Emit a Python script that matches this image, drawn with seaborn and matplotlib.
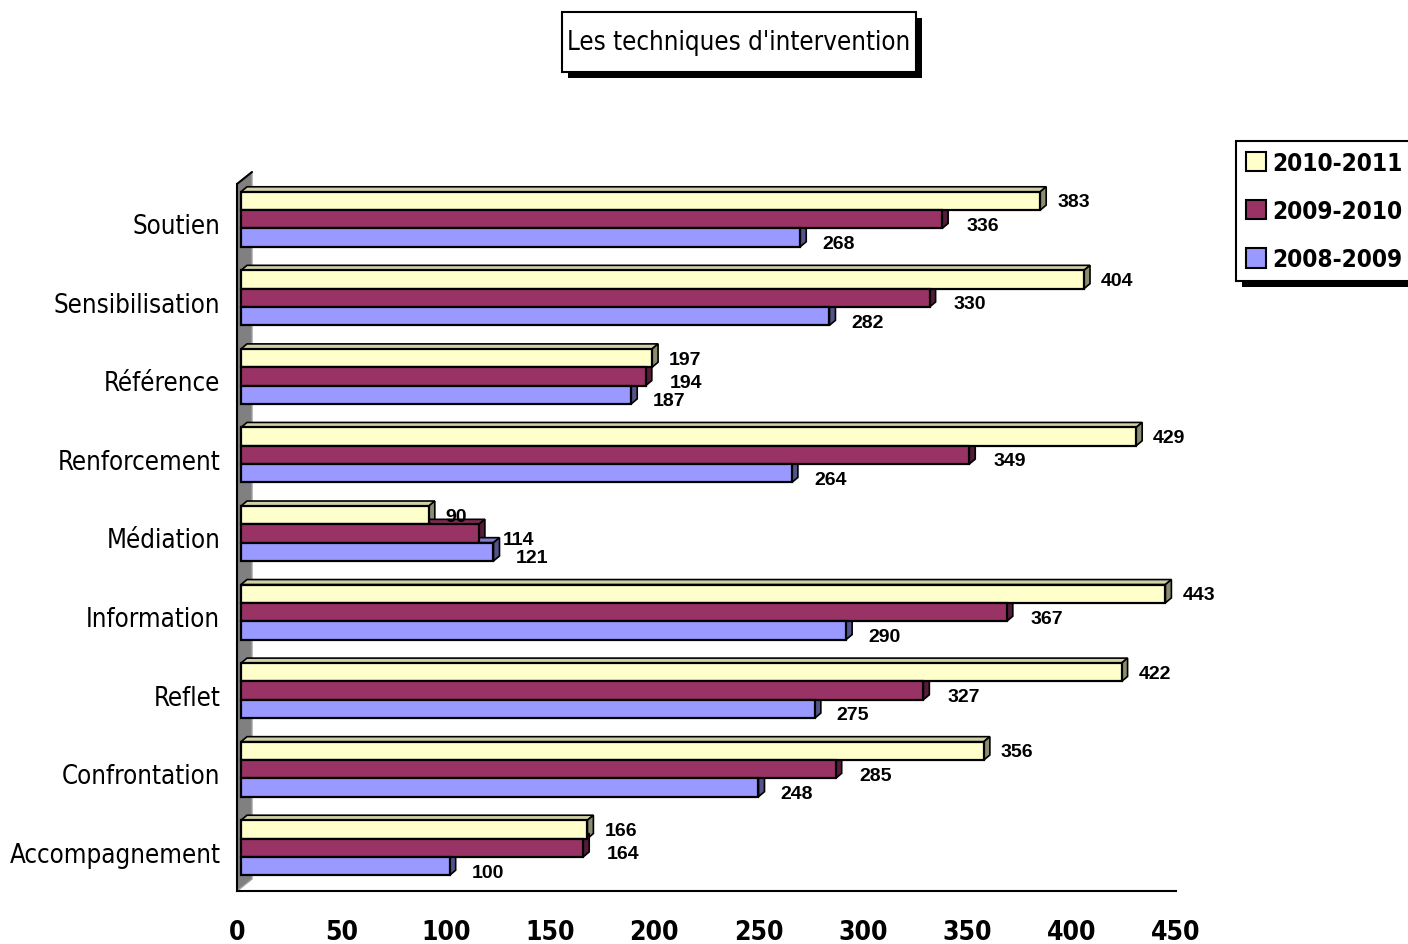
import numpy as np
import pandas as pd
import seaborn as sns
import matplotlib.pyplot as plt
import matplotlib.colors as mcolors
import matplotlib.transforms as mtransforms
import matplotlib.patheffects as pe
from matplotlib import font_manager as fm
from matplotlib.patches import Polygon, Patch, Rectangle

categories = ['Soutien', 'Sensibilisation', 'Référence', 'Renforcement', 'Médiation',
              'Information', 'Reflet', 'Confrontation', 'Accompagnement']
years = ['2010-2011', '2009-2010', '2008-2009']
v_2010_2011 = [383, 404, 197, 429, 90, 443, 422, 356, 166]
v_2009_2010 = [336, 330, 194, 349, 114, 367, 327, 285, 164]
v_2008_2009 = [268, 282, 187, 264, 121, 290, 275, 248, 100]
colors = ['#FFFFCC', '#993366', '#9999FF']
x_ticks = [0, 50, 100, 150, 200, 250, 300, 350, 400, 450]

df = pd.DataFrame({
    'technique': categories * 3,
    'annee': np.repeat(years, len(categories)),
    'valeur': v_2010_2011 + v_2009_2010 + v_2008_2009,
})

sns.set_style('white')
installed = {f.name for f in fm.fontManager.ttflist}
narrow = [f for f in ['Liberation Sans Narrow', 'Arial Narrow'] if f in installed] + ['DejaVu Sans']
plain = ['Liberation Sans', 'DejaVu Sans']
plt.rcParams['font.family'] = narrow
plt.rcParams['font.stretch'] = 'condensed'
plt.rcParams['text.color'] = 'black'
plt.rcParams['xtick.color'] = 'black'
plt.rcParams['ytick.color'] = 'black'

fig = plt.figure(figsize=(14.08, 9.45), dpi=100)
ax = fig.add_axes([237 / 1408, 1 - 892 / 945, 939 / 1408, 707 / 945])
sns.barplot(data=df, x='valeur', y='technique', hue='annee', hue_order=years, order=categories,
            palette=colors, orient='h', width=0.7, edgecolor='black', linewidth=1.6,
            saturation=1, legend=False, ax=ax)
ax.set_xlim(0, 450)
ax.set_ylim(8.5, -0.5)

# pixel scale, for the fake 3d faces
o = ax.transData.transform([(0, 0), (1, 1)])
px_x = o[1, 0] - o[0, 0]
px_y = o[0, 1] - o[1, 1]
shift = mtransforms.offset_copy(ax.transData, fig=fig, x=4, y=4, units='dots')
dxd, dyd = 6 / px_x, 5 / px_y

# grey side wall
wdx, wdy = 15 / px_x, 12 / px_y
wall = Polygon([(0, 8.5), (0, -0.5), (wdx, -0.5 - wdy), (wdx, 8.5 - wdy)], closed=True,
               fc='#808080', ec='#a0a0a0', lw=1, zorder=0.5, clip_on=False)
ax.add_patch(wall)
ax.plot([0, wdx], [-0.5, -0.5 - wdy], color='black', lw=1.5, clip_on=False, zorder=0.6)

# value label nudges per series (pixels)
label_dx = [21, 28, 26]
label_dy = [3, -2, -2]
series = [v_2010_2011, v_2009_2010, v_2008_2009]
for cont, col, vals, ldx, ldy in zip(ax.containers, colors, series, label_dx, label_dy):
    rgb = np.array(mcolors.to_rgb(col))
    label_tr = mtransforms.offset_copy(ax.transData, fig=fig, x=ldx, y=ldy, units='dots')
    for bar, v in zip(cont, vals):
        bar.set_transform(shift)
        bar.set_zorder(3)
        y0 = bar.get_y()
        y1 = y0 + bar.get_height()
        w = bar.get_width()
        top = Polygon([(0, y0), (dxd, y0 - dyd), (w + dxd, y0 - dyd), (w, y0)], closed=True,
                      fc=rgb * 0.82, ec='black', lw=1.2, transform=shift, zorder=2)
        side = Polygon([(w, y0), (w + dxd, y0 - dyd), (w + dxd, y1 - dyd), (w, y1)], closed=True,
                       fc=rgb * 0.55, ec='black', lw=1.2, transform=shift, zorder=2)
        ax.add_patch(top)
        ax.add_patch(side)
        ax.text(w, (y0 + y1) / 2, str(v), transform=label_tr, ha='left', va='center',
                fontsize=14, fontweight='bold', family=plain, fontstretch='normal', zorder=4)

ax.set_xlim(0, 450)
ax.set_ylim(8.5, -0.5)
ax.set_xticks(x_ticks)
ax.set_yticks(range(len(categories)))
ax.set_yticklabels(categories)
ax.set_yticks(np.arange(-0.5, len(categories)), minor=True)
ax.tick_params(axis='y', which='major', length=0, pad=12, labelsize=18.5)
ax.tick_params(axis='y', which='minor', length=7, width=1.5, direction='out', color='black')
ax.tick_params(axis='x', length=7, width=1.5, pad=13, labelsize=19, direction='out', color='black')
for lbl in ax.get_xticklabels():
    lbl.set_fontweight('bold')
ax.set_xlabel('')
ax.set_ylabel('')
sns.despine(ax=ax)
for s in ['left', 'bottom']:
    ax.spines[s].set_color('black')
    ax.spines[s].set_linewidth(1.5)
ax.patch.set_alpha(0)

# legend
handles = [Patch(fc=c, ec='black', lw=1.5) for c in colors]
leg = fig.legend(handles, years, loc='upper left', bbox_to_anchor=(1236 / 1408, 1 - 142 / 945),
                 frameon=True, fancybox=False, edgecolor='black', framealpha=1,
                 handlelength=0.85, handleheight=0.85, handletextpad=0.25, labelspacing=1.0,
                 borderpad=0.4, borderaxespad=0,
                 prop={'family': narrow, 'weight': 'bold', 'size': 17.5, 'stretch': 'condensed'})
leg.get_frame().set_linewidth(1.5)
leg.get_frame().set_path_effects([pe.withSimplePatchShadow(offset=(4, -4), shadow_rgbFace='black', alpha=1)])

# title in a box with shadow
tb = Rectangle((562 / 1408, 1 - 73 / 945), 354 / 1408, 60 / 945, transform=fig.transFigure,
               fc='white', ec='black', lw=1.5,
               path_effects=[pe.withSimplePatchShadow(offset=(4, -4), shadow_rgbFace='black', alpha=1)])
fig.add_artist(tb)
fig.text(739 / 1408, 1 - 43 / 945, "Les techniques d'intervention", ha='center', va='center', fontsize=18.5)

fig.savefig('out.png', dpi=100)
